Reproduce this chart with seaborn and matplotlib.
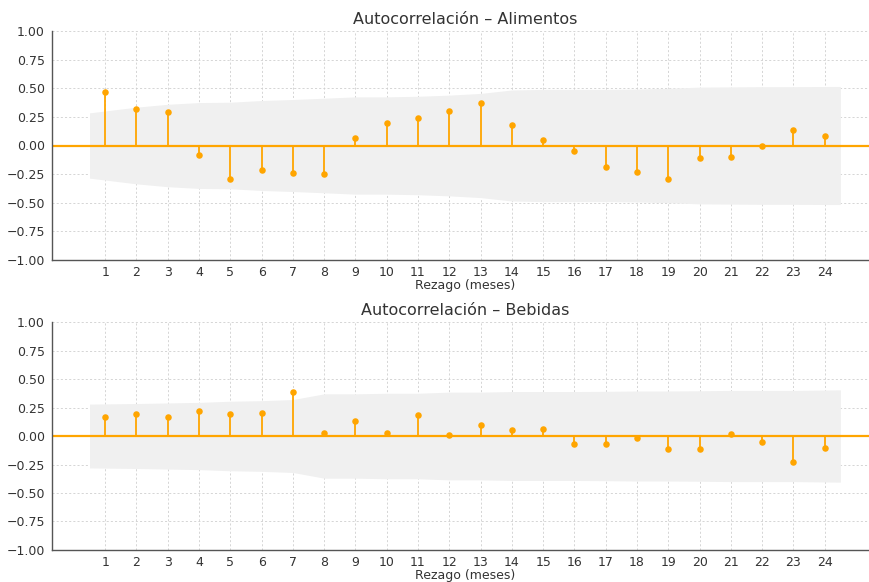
import numpy as np
import pandas as pd
import matplotlib
matplotlib.use("Agg")
import matplotlib.pyplot as plt
import seaborn as sns

# Lags (months)
lags = list(range(1, 25))

# Autocorrelation estimates
acf_alimentos = [0.466, 0.32, 0.29, -0.079, -0.29, -0.217, -0.24, -0.252,
                 0.065, 0.196, 0.237, 0.302, 0.367, 0.176, 0.047, -0.047,
                 -0.19, -0.232, -0.293, -0.108, -0.103, -0.006, 0.132, 0.082]
acf_bebidas = [0.165, 0.191, 0.171, 0.221, 0.194, 0.206, 0.382, 0.029,
               0.132, 0.029, 0.188, 0.012, 0.097, 0.056, 0.065, -0.074,
               -0.068, -0.015, -0.112, -0.115, 0.018, -0.053, -0.229, -0.109]

# Half-width of the 95% confidence band at each lag
conf_alimentos = [0.285, 0.335, 0.36, 0.375, 0.378, 0.393, 0.402, 0.413,
                  0.425, 0.425, 0.43, 0.44, 0.455, 0.485, 0.49, 0.49,
                  0.49, 0.493, 0.50, 0.51, 0.512, 0.514, 0.514, 0.516]
conf_bebidas = [0.28, 0.285, 0.29, 0.295, 0.305, 0.31, 0.32, 0.37,
                0.37, 0.375, 0.375, 0.385, 0.385, 0.39, 0.39, 0.39,
                0.392, 0.395, 0.395, 0.397, 0.40, 0.40, 0.40, 0.405]

titles = ["Autocorrelación – Alimentos", "Autocorrelación – Bebidas"]
xlabel = "Rezago (meses)"

ORANGE = "#FFA500"
TEXT = "#333333"
GRID = "#cfcfcf"

sns.set_style("whitegrid", {
    "grid.linestyle": "--",
    "grid.color": GRID,
    "axes.edgecolor": "#555555",
})
plt.rcParams["font.family"] = ["DejaVu Sans"]

fig = plt.figure(figsize=(8.69, 5.82), dpi=100)
ax_top = fig.add_axes([0.0598, 0.5533, 0.9505, 0.3934])
ax_bot = fig.add_axes([0.0598, 0.0550, 0.9505, 0.3917])


def draw_acf(ax, values, conf, title):
    df = pd.DataFrame({"lag": lags, "acf": values})
    band_x = np.array(lags, dtype=float)
    band_x[0] -= 0.5
    band_x[-1] += 0.5
    conf = np.array(conf)
    ax.fill_between(band_x, -conf, conf, color="#f0f0f0", linewidth=0, zorder=1)
    ax.axhline(0, color=ORANGE, linewidth=1.6, zorder=2)
    ax.vlines(df["lag"], 0, df["acf"], color=ORANGE, linewidth=1.3, zorder=3)
    sns.scatterplot(data=df, x="lag", y="acf", ax=ax, color=ORANGE,
                    s=22, edgecolor=ORANGE, linewidth=0, zorder=4)
    ax.set_xlim(-0.7, 25.7)
    ax.set_ylim(-1.0, 1.0)
    ax.set_xticks(lags)
    ticks = np.arange(-1.0, 1.01, 0.25)
    ax.set_yticks(ticks)
    ax.set_yticklabels([f"{v:.2f}".replace("-", "\u2212") for v in ticks])
    ax.set_title(title, fontsize=11.5, color=TEXT, pad=5)
    ax.set_xlabel(xlabel, fontsize=9, color=TEXT, labelpad=0)
    ax.set_ylabel("")
    ax.tick_params(axis="both", labelsize=9, colors=TEXT, length=3, pad=2)
    ax.tick_params(axis="x", length=0, pad=4)
    for side in ("top", "right"):
        ax.spines[side].set_visible(False)
    for side in ("left", "bottom"):
        ax.spines[side].set_linewidth(1.0)
    ax.grid(True, linestyle=(0, (2.5, 2.5)), color=GRID, linewidth=0.6)
    ax.set_axisbelow(True)


draw_acf(ax_top, acf_alimentos, conf_alimentos, titles[0])
draw_acf(ax_bot, acf_bebidas, conf_bebidas, titles[1])

fig.savefig("out.png", dpi=100)
